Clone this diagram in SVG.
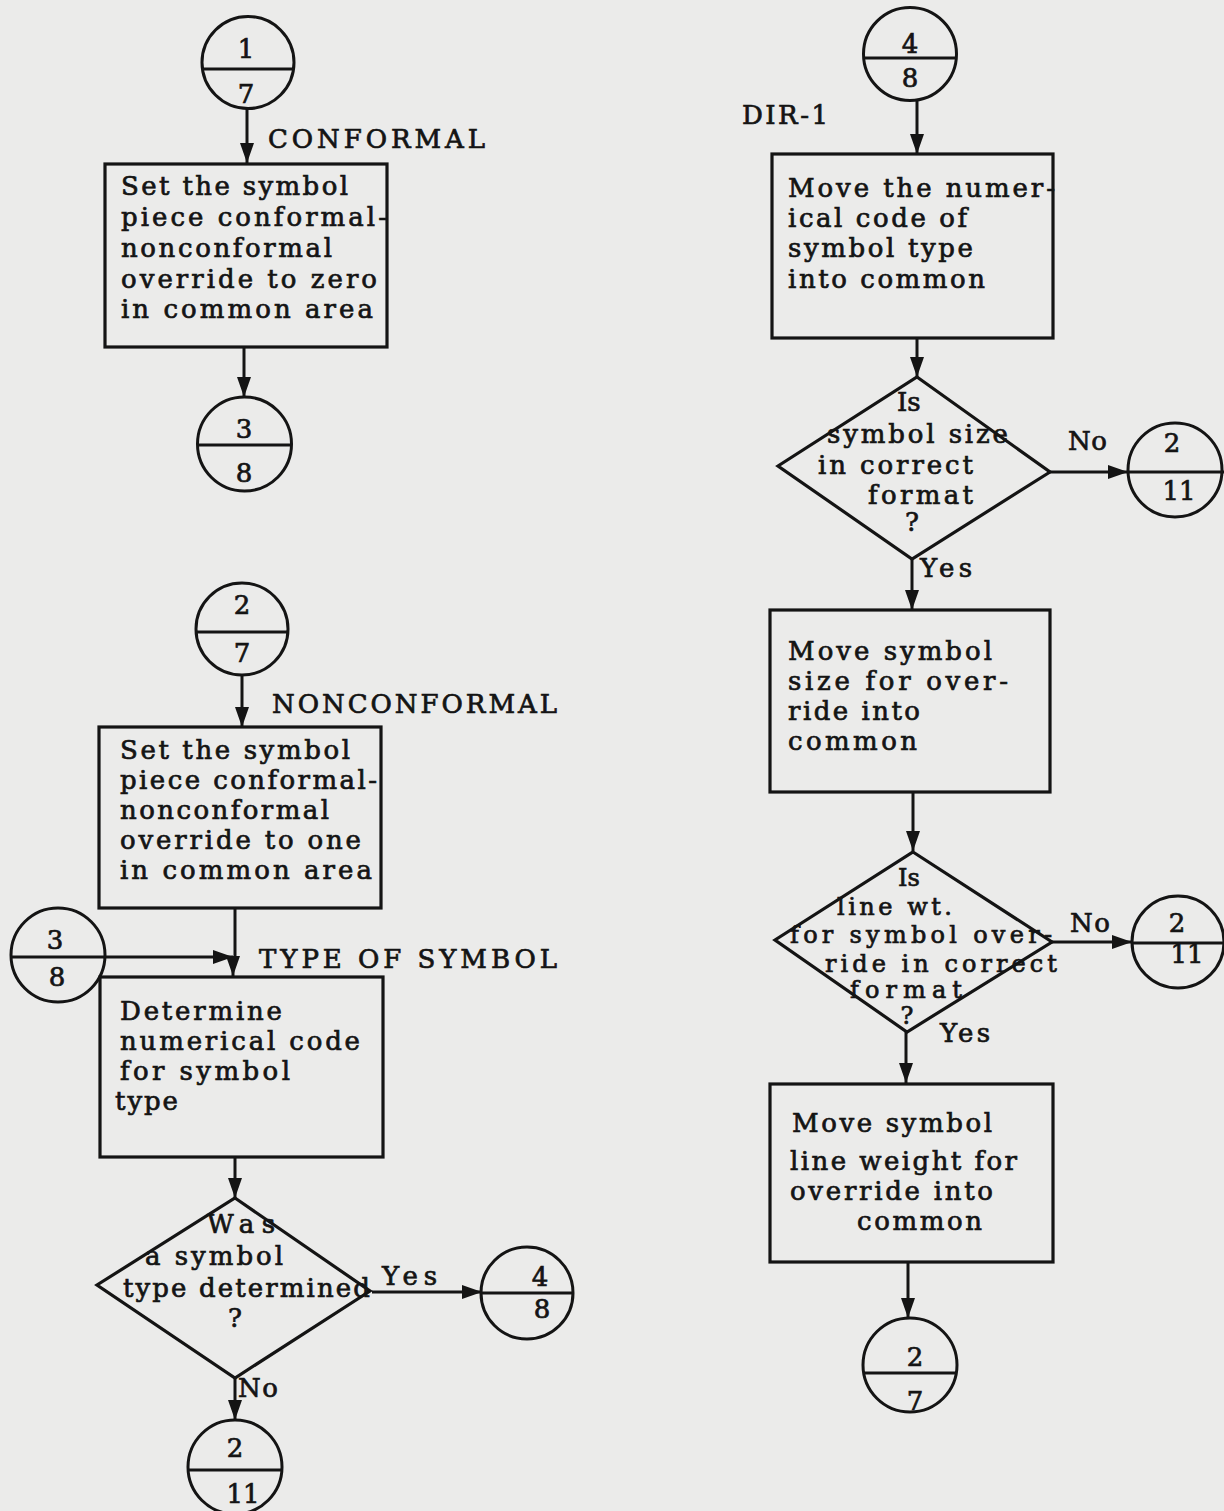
<svg xmlns="http://www.w3.org/2000/svg" width="1224" height="1511" viewBox="0 0 1224 1511">
  <style>
    .bg { fill: #ebebea; }
    .ln { fill: none; stroke: #141414; stroke-width: 3; }
    .bx { fill: none; stroke: #141414; stroke-width: 3.2; }
    .t { font-family: "DejaVu Serif", "Liberation Serif", serif; font-size: 26px; fill: #141414; stroke: #141414; stroke-width: 0.7; }
    .s { font-size: 24px; }
    .m { text-anchor: middle; }
  </style>
  <defs>
    <marker id="ah" viewBox="0 0 20 14" refX="20" refY="7" markerWidth="20" markerHeight="14" markerUnits="userSpaceOnUse" orient="auto">
      <path d="M0,0 L20,7 L0,14 Z" fill="#141414"/>
    </marker>
  </defs>

  <rect class="bg" x="0" y="0" width="1224" height="1511"/>

  <!-- flow lines -->
  <g id="connectors">
    <path class="ln" d="M247,109 V163" marker-end="url(#ah)"/>
    <path class="ln" d="M244,347 V397" marker-end="url(#ah)"/>
    <path class="ln" d="M242,675 V727" marker-end="url(#ah)"/>
    <path class="ln" d="M235,908 V957"/>
    <path class="ln" d="M233,957 V976" marker-end="url(#ah)"/>
    <path class="ln" d="M106,957 H233" marker-end="url(#ah)"/>
    <path class="ln" d="M235,1157 V1198" marker-end="url(#ah)"/>
    <path class="ln" d="M372,1292 H482" marker-end="url(#ah)"/>
    <path class="ln" d="M235,1378 V1420" marker-end="url(#ah)"/>
    <path class="ln" d="M917,100 V154" marker-end="url(#ah)"/>
    <path class="ln" d="M917,338 V377" marker-end="url(#ah)"/>
    <path class="ln" d="M1050,472 H1128" marker-end="url(#ah)"/>
    <path class="ln" d="M912,559 V610" marker-end="url(#ah)"/>
    <path class="ln" d="M913,792 V851" marker-end="url(#ah)"/>
    <path class="ln" d="M1052,942 H1132" marker-end="url(#ah)"/>
    <path class="ln" d="M906,1032 V1083" marker-end="url(#ah)"/>
    <path class="ln" d="M908,1262 V1318" marker-end="url(#ah)"/>
  </g>

  <!-- left column -->
  <g id="off-1-7">
    <circle class="ln" cx="248" cy="62.5" r="46"/>
    <line class="ln" x1="202.5" y1="69" x2="293.5" y2="69"/>
    <text class="t m" x="246" y="58">1</text>
    <text class="t m" x="246" y="103">7</text>
  </g>

  <text class="t" x="268" y="148" textLength="217">CONFORMAL</text>

  <g id="set-zero">
    <rect class="bx" x="105" y="164" width="282" height="183"/>
    <text class="t" x="121" y="195" textLength="227">Set the symbol</text>
    <text class="t" x="121" y="226" textLength="266">piece conformal-</text>
    <text class="t" x="121" y="257" textLength="211">nonconformal</text>
    <text class="t" x="121" y="288" textLength="256">override to zero</text>
    <text class="t" x="121" y="318" textLength="252">in common area</text>
  </g>

  <g id="off-3-8-a">
    <circle class="ln" cx="244.5" cy="444" r="47"/>
    <line class="ln" x1="197.5" y1="445" x2="291.5" y2="445"/>
    <text class="t m" x="244" y="438">3</text>
    <text class="t m" x="244" y="482">8</text>
  </g>

  <g id="off-2-7-a">
    <circle class="ln" cx="242" cy="629" r="46"/>
    <line class="ln" x1="196.1" y1="632" x2="287.9" y2="632"/>
    <text class="t m" x="242" y="614">2</text>
    <text class="t m" x="242" y="662">7</text>
  </g>

  <text class="t" x="272" y="713" textLength="285">NONCONFORMAL</text>

  <g id="set-one">
    <rect class="bx" x="99" y="727" width="282" height="181"/>
    <text class="t" x="120" y="759" textLength="230">Set the symbol</text>
    <text class="t" x="120" y="789" textLength="257">piece conformal-</text>
    <text class="t" x="120" y="819" textLength="209">nonconformal</text>
    <text class="t" x="120" y="849" textLength="241">override to one</text>
    <text class="t" x="120" y="879" textLength="252">in common area</text>
  </g>

  <g id="off-3-8-b">
    <circle class="ln" cx="58" cy="955" r="47"/>
    <line class="ln" x1="11" y1="957" x2="105" y2="957"/>
    <text class="t m" x="55" y="949">3</text>
    <text class="t m" x="57" y="986">8</text>
  </g>

  <text class="t" x="259" y="968" textLength="298">TYPE OF SYMBOL</text>

  <g id="determine-code">
    <rect class="bx" x="100" y="977" width="283" height="180"/>
    <text class="t" x="120" y="1020" textLength="162">Determine</text>
    <text class="t" x="120" y="1050" textLength="240">numerical code</text>
    <text class="t" x="120" y="1080" textLength="170">for symbol</text>
    <text class="t" x="115" y="1110" textLength="63">type</text>
  </g>

  <g id="type-determined">
    <polygon class="bx" points="235,1198 370,1291 235,1378 97,1285"/>
    <text class="t" x="207" y="1233" textLength="68">Was</text>
    <text class="t" x="145" y="1265" textLength="138">a symbol</text>
    <text class="t" x="123" y="1297" textLength="247">type determined</text>
    <text class="t m" x="235" y="1327">?</text>
  </g>

  <text class="t" x="382" y="1285" textLength="55">Yes</text>
  <text class="t" x="238" y="1397" textLength="40">No</text>

  <g id="off-4-8-a">
    <circle class="ln" cx="527" cy="1293" r="46"/>
    <line class="ln" x1="481" y1="1293" x2="573" y2="1293"/>
    <text class="t m" x="540" y="1286">4</text>
    <text class="t m" x="542" y="1318">8</text>
  </g>

  <g id="off-2-11-a">
    <circle class="ln" cx="235" cy="1467" r="47"/>
    <line class="ln" x1="188.1" y1="1470" x2="281.9" y2="1470"/>
    <text class="t m" x="235" y="1457">2</text>
    <text class="t m" x="243" y="1503">11</text>
  </g>

  <!-- right column -->
  <g id="off-4-8-b">
    <circle class="ln" cx="910" cy="54" r="46.5"/>
    <line class="ln" x1="863.7" y1="58" x2="956.3" y2="58"/>
    <text class="t m" x="910" y="53">4</text>
    <text class="t m" x="910" y="87">8</text>
  </g>

  <text class="t" x="742" y="124" textLength="86">DIR-1</text>

  <g id="move-type">
    <rect class="bx" x="772" y="154" width="281" height="184"/>
    <text class="t" x="788" y="197" textLength="267">Move the numer-</text>
    <text class="t" x="788" y="227" textLength="179">ical code of</text>
    <text class="t" x="788" y="257" textLength="185">symbol type</text>
    <text class="t" x="788" y="288" textLength="197">into common</text>
  </g>

  <g id="size-format">
    <polygon class="bx" points="917,377 1050,472 912,559 778,466"/>
    <text class="t" x="897" y="411">Is</text>
    <text class="t" x="827" y="443" textLength="181">symbol size</text>
    <text class="t" x="818" y="474" textLength="155">in correct</text>
    <text class="t" x="868" y="504" textLength="105">format</text>
    <text class="t m" x="912" y="531">?</text>
  </g>

  <text class="t" x="1068" y="450" textLength="39">No</text>
  <text class="t" x="920" y="577" textLength="52">Yes</text>

  <g id="off-2-11-b">
    <circle class="ln" cx="1175" cy="470" r="47"/>
    <line class="ln" x1="1128" y1="472" x2="1224" y2="472"/>
    <text class="t m" x="1172" y="452">2</text>
    <text class="t m" x="1179" y="500">11</text>
  </g>

  <g id="move-size">
    <rect class="bx" x="770" y="610" width="280" height="182"/>
    <text class="t" x="788" y="660" textLength="204">Move symbol</text>
    <text class="t" x="788" y="690" textLength="220">size for over-</text>
    <text class="t" x="788" y="720" textLength="132">ride into</text>
    <text class="t" x="788" y="750" textLength="129">common</text>
  </g>

  <g id="weight-format">
    <polygon class="bx" points="913,852 1052,942 907,1032 775,940"/>
    <text class="t s" x="898" y="886">Is</text>
    <text class="t s" x="837" y="915" textLength="115">line wt.</text>
    <text class="t s" x="790" y="943" textLength="262">for symbol over-</text>
    <text class="t s" x="825" y="972" textLength="232">ride in correct</text>
    <text class="t s" x="850" y="998" textLength="112">format</text>
    <text class="t s m" x="907" y="1024">?</text>
  </g>

  <text class="t" x="1070" y="932" textLength="40">No</text>
  <text class="t" x="940" y="1042" textLength="50">Yes</text>

  <g id="off-2-11-c">
    <circle class="ln" cx="1178" cy="942" r="46"/>
    <line class="ln" x1="1132" y1="943" x2="1224" y2="943"/>
    <text class="t m" x="1177" y="932">2</text>
    <text class="t m" x="1187" y="963">11</text>
  </g>

  <g id="move-weight">
    <rect class="bx" x="770" y="1084" width="283" height="178"/>
    <text class="t" x="792" y="1132" textLength="200">Move symbol</text>
    <text class="t" x="790" y="1170" textLength="227">line weight for</text>
    <text class="t" x="790" y="1200" textLength="203">override into</text>
    <text class="t" x="857" y="1230" textLength="125">common</text>
  </g>

  <g id="off-2-7-b">
    <circle class="ln" cx="910" cy="1365" r="47"/>
    <line class="ln" x1="863.7" y1="1373" x2="956.3" y2="1373"/>
    <text class="t m" x="915" y="1366">2</text>
    <text class="t m" x="915" y="1410">7</text>
  </g>
</svg>
